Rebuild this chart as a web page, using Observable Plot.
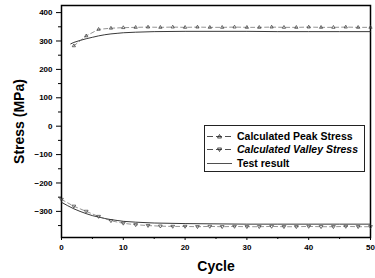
<!DOCTYPE html>
<html>
<head>
<meta charset="utf-8">
<script src="https://cdn.jsdelivr.net/npm/d3@7"></script>
<script src="https://cdn.jsdelivr.net/npm/@observablehq/plot@0.6"></script>
<style>
  html, body { margin: 0; padding: 0; background: #fff; }
  #wrap { position: relative; width: 375px; height: 278px; font-family: "Liberation Sans", Arial, sans-serif; }
  #legend { position: absolute; left: 204px; top: 125px; width: 161px; height: 47px; border: 1px solid #222; background: #fff; box-sizing: border-box; padding-top: 3px; }
  .row { display: flex; align-items: center; height: 13.5px; font-size: 10.5px; font-weight: bold; color: #000; white-space: nowrap; }
  .row svg { margin-left: 2px; margin-right: 5px; flex: none; }
</style>
</head>
<body>
<div id="wrap"></div>
<script>
// Test result (solid line)
const testPeakCycle  = [1.5, 2, 3, 4, 5, 6, 7, 8, 9, 10, 12, 15, 20, 25, 30, 35, 40, 45, 50];
const testPeakStress = [290, 295, 302, 308, 313, 318, 322, 325, 327, 329, 331, 333, 334, 334, 334, 333, 333, 333, 333];
const testValleyCycle  = [0, 1, 2, 3, 4, 5, 6, 7, 8, 9, 10, 12, 15, 20, 25, 30, 35, 40, 45, 50];
const testValleyStress = [-268, -280, -291, -300, -308, -315, -320, -325, -329, -332, -335, -338, -341, -343, -344, -345, -345, -345, -345, -345];

// Calculated peak / valley stress (markers every 2 cycles)
const calcPeakCycle  = [2, 4, 6, 8, 10, 12, 14, 16, 18, 20, 22, 24, 26, 28, 30, 32, 34, 36, 38, 40, 42, 44, 46, 48, 50];
const calcPeakStress = [283, 318, 341, 345, 347, 348, 349, 348, 349, 348, 349, 348, 348, 349, 348, 348, 349, 348, 348, 349, 348, 348, 349, 348, 348];
const calcValleyCycle  = [0, 2, 4, 6, 8, 10, 12, 14, 16, 18, 20, 22, 24, 26, 28, 30, 32, 34, 36, 38, 40, 42, 44, 46, 48, 50];
const calcValleyStress = [-258, -282, -300, -318, -333, -342, -347, -350, -352, -353, -353, -354, -353, -354, -353, -354, -354, -353, -354, -354, -353, -354, -354, -353, -354, -354];

const xTicks = [0, 10, 20, 30, 40, 50];
const yTicks = [-300, -200, -100, 0, 100, 200, 300, 400];

const tp = testPeakCycle.map((c, i) => ({c, s: testPeakStress[i]}));
const tv = testValleyCycle.map((c, i) => ({c, s: testValleyStress[i]}));
const cp = calcPeakCycle.map((c, i) => ({c, s: calcPeakStress[i]}));
const cv = calcValleyCycle.map((c, i) => ({c, s: calcValleyStress[i]}));

const triDown = {
  draw(ctx, size) {
    const r = Math.sqrt(size / 1.3);
    ctx.moveTo(-r, -r * 0.6);
    ctx.lineTo(r, -r * 0.6);
    ctx.lineTo(0, r);
    ctx.closePath();
  }
};

const chart = Plot.plot({
  width: 375,
  height: 278,
  marginLeft: 61,
  marginRight: 5,
  marginTop: 5,
  marginBottom: 41,
  style: {fontFamily: "'Liberation Sans', Arial, sans-serif", background: "#fff", color: "#000"},
  x: {domain: [0, 50]},
  y: {domain: [-392, 425]},
  marks: [
    Plot.axisX({ticks: xTicks, tickSize: 3, tickPadding: 4, fontSize: 8, fontWeight: "bold", fill: "#000", label: null, tickFormat: d3.format("d")}),
    Plot.axisX({ticks: d3.range(5, 50, 10), tickSize: 2, text: null, label: null}),
    Plot.axisY({ticks: yTicks, tickSize: 5, tickPadding: 4, fontSize: 8, fontWeight: "bold", fill: "#000", label: null, tickFormat: d3.format("d")}),
    Plot.axisY({ticks: d3.range(-350, 400, 100), tickSize: 3, text: null, label: null}),
    Plot.frame({stroke: "#000", strokeWidth: 1.5}),
    Plot.line(tp, {x: "c", y: "s", stroke: "#222", strokeWidth: 0.9}),
    Plot.line(tv, {x: "c", y: "s", stroke: "#222", strokeWidth: 0.9}),
    Plot.line(cp, {x: "c", y: "s", stroke: "#666", strokeWidth: 0.7, strokeDasharray: "4,3"}),
    Plot.line(cv, {x: "c", y: "s", stroke: "#666", strokeWidth: 0.7, strokeDasharray: "4,3"}),
    Plot.dot(cp, {x: "c", y: "s", symbol: "triangle", r: 1.2, stroke: "#333", strokeWidth: 0.7, fill: "none"}),
    Plot.dot(cv, {x: "c", y: "s", symbol: triDown, r: 1.2, stroke: "#333", strokeWidth: 0.7, fill: "none"}),
    Plot.text(["Cycle"], {frameAnchor: "bottom", dy: 33, fontSize: 14, fontWeight: "bold", fill: "#000"}),
    Plot.text(["Stress (MPa)"], {frameAnchor: "left", dx: -42, rotate: -90, textAnchor: "middle", fontSize: 14, fontWeight: "bold", fill: "#000"})
  ]
});

const wrap = document.getElementById("wrap");
wrap.appendChild(chart);

const legendItems = [
  {label: "Calculated Peak Stress", marker: "up", italic: false},
  {label: "Calculated Valley Stress", marker: "down", italic: true},
  {label: "Test result", marker: null, italic: false}
];
const lg = document.createElement("div");
lg.id = "legend";
for (const it of legendItems) {
  const row = document.createElement("div");
  row.className = "row";
  let m = "";
  if (it.marker === "up") m = '<path d="M10.5,8 L14.5,8 L12.5,4.5 Z" fill="none" stroke="#222" stroke-width="0.8"/>';
  if (it.marker === "down") m = '<path d="M10.5,5 L14.5,5 L12.5,8.5 Z" fill="none" stroke="#222" stroke-width="0.8"/>';
  const dash = it.marker ? 'stroke-dasharray="6,3"' : '';
  row.innerHTML = `<svg width="25" height="12"><line x1="0" x2="25" y1="6.5" y2="6.5" stroke="#222" stroke-width="0.8" ${dash}/>${m}</svg><span style="font-style:${it.italic ? "italic" : "normal"}">${it.label}</span>`;
  lg.appendChild(row);
}
wrap.appendChild(lg);
</script>
</body>
</html>
